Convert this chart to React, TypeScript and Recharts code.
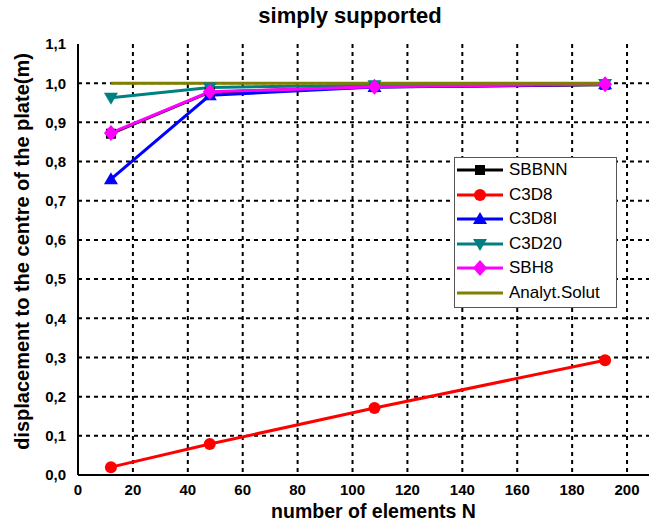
import React from 'react';
import { LineChart, Line, XAxis, YAxis, CartesianGrid, Label } from 'recharts';

const elements = [12, 48, 108, 192];
const sbbnn = [0.871, 0.977, 0.99, 0.996];
const c3d8 = [0.02, 0.079, 0.171, 0.293];
const c3d8i = [0.755, 0.969, 0.99, 0.997];
const c3d20 = [0.963, 0.989, 0.995, 0.998];
const sbh8 = [0.873, 0.978, 0.991, 0.997];
const analytic = [1.0, 1.0, 1.0, 1.0];

const xTicks = [0, 20, 40, 60, 80, 100, 120, 140, 160, 180, 200];
const xMinor = [10, 30, 50, 70, 90, 110, 130, 150, 170, 190];
const yTicks = [0, 0.1, 0.2, 0.3, 0.4, 0.5, 0.6, 0.7, 0.8, 0.9, 1.0, 1.1];
const yMinor = [0.05, 0.15, 0.25, 0.35, 0.45, 0.55, 0.65, 0.75, 0.85, 0.95, 1.05];
const xGrid = [20, 40, 60, 80, 100, 120, 140, 160, 180, 200];
const yGrid = [0.1, 0.2, 0.3, 0.4, 0.5, 0.6, 0.7, 0.8, 0.9, 1.0];

const data = elements.map((n, i) => ({
  n,
  sbbnn: sbbnn[i],
  c3d8: c3d8[i],
  c3d8i: c3d8i[i],
  c3d20: c3d20[i],
  sbh8: sbh8[i],
  analytic: analytic[i],
}));

type Shape = 'square' | 'circle' | 'up' | 'down' | 'diamond' | 'none';

const series: { key: string; name: string; color: string; shape: Shape }[] = [
  { key: 'sbbnn', name: 'SBBNN', color: '#000000', shape: 'square' },
  { key: 'c3d8', name: 'C3D8', color: '#ff0000', shape: 'circle' },
  { key: 'c3d8i', name: 'C3D8I', color: '#0000ff', shape: 'up' },
  { key: 'c3d20', name: 'C3D20', color: '#008080', shape: 'down' },
  { key: 'sbh8', name: 'SBH8', color: '#ff00ff', shape: 'diamond' },
  { key: 'analytic', name: 'Analyt.Solut', color: '#808000', shape: 'none' },
];

const font = 'Arial, "Liberation Sans", sans-serif';
const X_DOMAIN: [number, number] = [0, 208];
const Y_DOMAIN: [number, number] = [0, 1.1];

function Marker({ cx, cy, shape, color }: { cx: number; cy: number; shape: Shape; color: string }) {
  if (cx == null || cy == null) return null;
  switch (shape) {
    case 'square':
      return <rect x={cx - 5} y={cy - 5} width={10} height={10} fill={color} />;
    case 'circle':
      return <circle cx={cx} cy={cy} r={6} fill={color} />;
    case 'up':
      return <polygon points={`${cx},${cy - 7} ${cx - 7},${cy + 5} ${cx + 7},${cy + 5}`} fill={color} />;
    case 'down':
      return <polygon points={`${cx},${cy + 7} ${cx - 7},${cy - 5} ${cx + 7},${cy - 5}`} fill={color} />;
    case 'diamond':
      return <polygon points={`${cx},${cy - 8} ${cx + 7},${cy} ${cx},${cy + 8} ${cx - 7},${cy}`} fill={color} />;
    default:
      return null;
  }
}

// legend drawn as plain html on top of the chart
const LegendBox = () => (
  <div
    style={{
      position: 'absolute',
      left: 454,
      top: 157,
      border: '1px solid #555',
      background: '#fff',
      width: 161,
      padding: '0px 0 2px 0',
      fontFamily: font,
      fontSize: 17,
      color: '#000',
    }}
  >
    {series.map((s) => (
      <div key={s.key} style={{ display: 'flex', alignItems: 'center', height: 24.5 }}>
        <svg width={52} height={20}>
          <line x1={2} y1={10} x2={48} y2={10} stroke={s.color} strokeWidth={3} />
          <Marker cx={25} cy={10} shape={s.shape} color={s.color} />
        </svg>
        <span style={{ marginLeft: 2 }}>{s.name}</span>
      </div>
    ))}
  </div>
);

const fmt = (v: number) => v.toFixed(1).replace('.', ',');

export default function App() {
  return (
    <div style={{ position: 'absolute', left: 0, top: 0, width: 649, height: 525, background: '#fff', overflow: 'hidden' }}>
      <div
        style={{
          position: 'absolute',
          left: 0,
          width: 700,
          top: 3,
          textAlign: 'center',
          fontFamily: font,
          fontWeight: 'bold',
          fontSize: 22,
        }}
      >
        simply supported
      </div>
      <LineChart width={649} height={525} data={data} margin={{ top: 44, right: 0, bottom: 0, left: 0 }}>
        <CartesianGrid
          stroke="#000"
          strokeWidth={2}
          strokeDasharray="4 4"
          horizontalValues={yGrid}
          verticalValues={xGrid}
        />
        {/* minor inward ticks, zero-size axes sitting on the main axis lines */}
        <XAxis
          xAxisId="minor"
          type="number"
          dataKey="n"
          domain={X_DOMAIN}
          ticks={xMinor}
          allowDataOverflow
          height={0}
          mirror
          axisLine={false}
          tick={false}
          tickSize={4}
          tickLine={{ stroke: '#000', strokeWidth: 1 }}
        />
        <YAxis
          yAxisId="minor"
          type="number"
          domain={Y_DOMAIN}
          ticks={yMinor}
          width={0}
          mirror
          axisLine={false}
          tick={false}
          tickSize={4}
          tickLine={{ stroke: '#000', strokeWidth: 1 }}
        />
        <XAxis
          dataKey="n"
          type="number"
          domain={X_DOMAIN}
          ticks={xTicks}
          allowDataOverflow
          height={50}
          stroke="#000"
          strokeWidth={2}
          tickLine={false}
          tick={{ fill: '#000', fontFamily: font, fontWeight: 'bold', fontSize: 15 }}
          tickMargin={3}
        >
          <Label
            value="number of elements N"
            position="insideBottom"
            offset={7}
            dx={10}
            style={{ fill: '#000', fontFamily: font, fontWeight: 'bold', fontSize: 19.5 }}
          />
        </XAxis>
        <YAxis
          type="number"
          domain={Y_DOMAIN}
          ticks={yTicks}
          width={78}
          stroke="#000"
          strokeWidth={2}
          tickLine={false}
          tickFormatter={fmt}
          tick={{ fill: '#000', fontFamily: font, fontWeight: 'bold', fontSize: 15 }}
          tickMargin={6}
        >
          <Label
            value="displacement to the centre of the plate(m)"
            angle={-90}
            position="insideLeft"
            offset={22}
            dy={-8}
            style={{ textAnchor: 'middle', fill: '#000', fontFamily: font, fontWeight: 'bold', fontSize: 20 }}
          />
        </YAxis>
        {series.map((s) => (
          <Line
            key={s.key}
            dataKey={s.key}
            name={s.name}
            type="linear"
            stroke={s.color}
            strokeWidth={3}
            isAnimationActive={false}
            dot={(p: any) => <Marker key={`${s.key}-${p.index}`} cx={p.cx} cy={p.cy} shape={s.shape} color={s.color} />}
            activeDot={false}
          />
        ))}
      </LineChart>
      <LegendBox />
    </div>
  );
}
